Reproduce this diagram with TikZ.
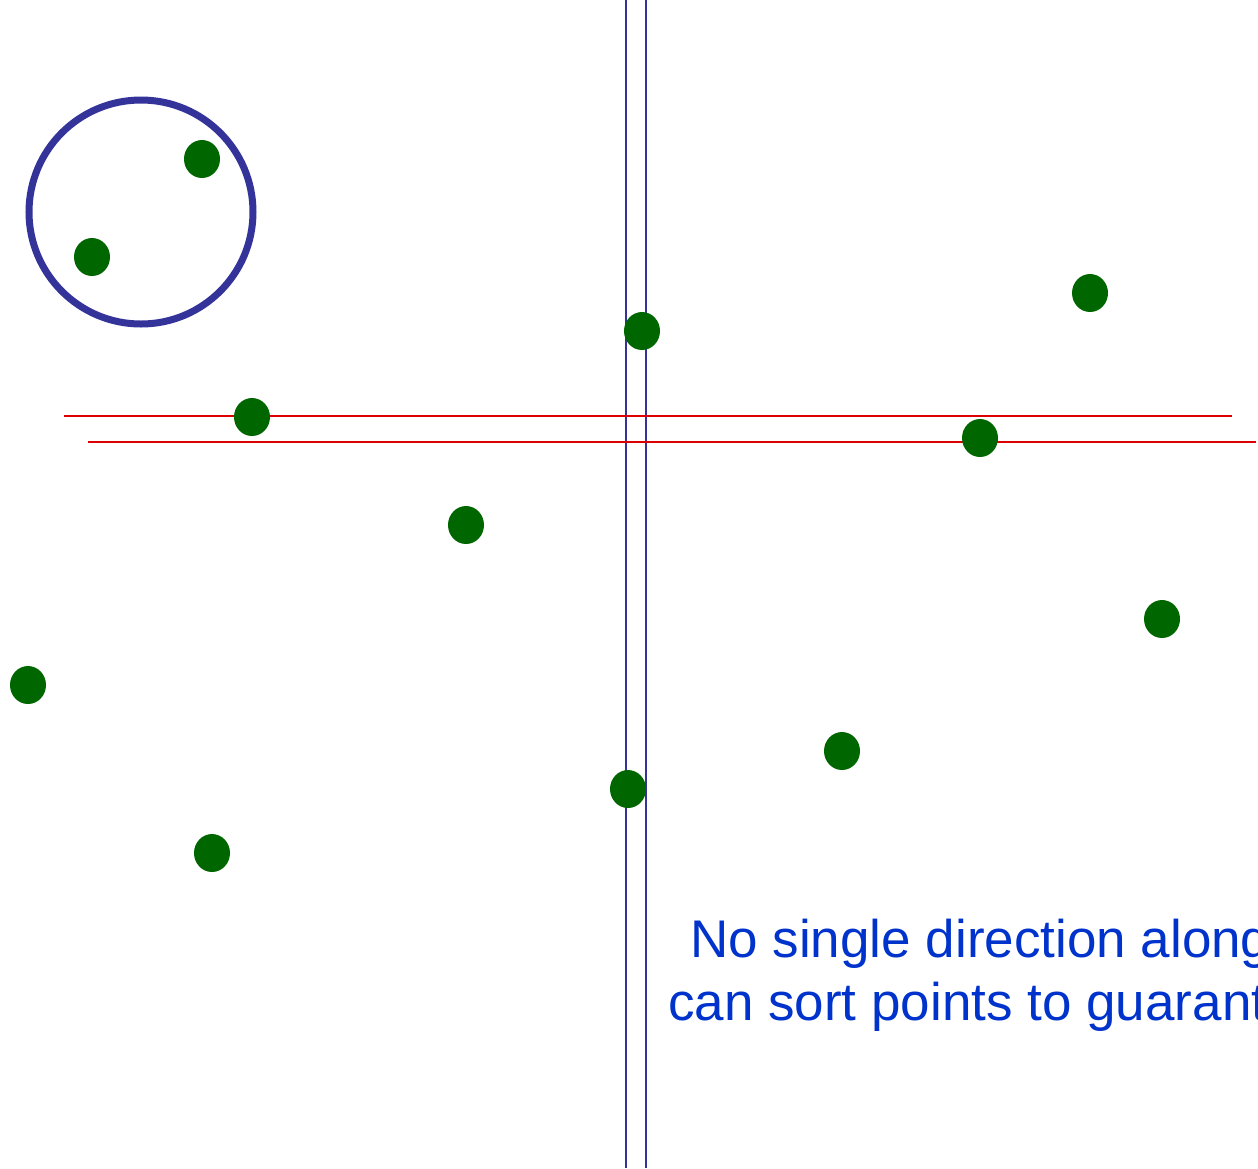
\documentclass[tikz,border=0pt]{standalone}
\usepackage{fontspec}
\setmainfont{Liberation Sans}
\definecolor{dotgreen}{HTML}{006600}
\definecolor{lineblue}{HTML}{333399}
\definecolor{linered}{HTML}{DD0000}
\definecolor{textblue}{HTML}{0033CC}
\tikzset{
  pt/.style={fill=dotgreen, draw=none, ellipse, minimum width=36pt, minimum height=38pt, inner sep=0pt},
  vline/.style={lineblue, line width=2.8pt},
  hline/.style={linered, line width=2.8pt},
  lbl/.style={textblue, font=\fontsize{53}{63}\selectfont, anchor=base west, inner sep=0pt}
}
\usetikzlibrary{shapes.geometric}
\begin{document}
\begin{tikzpicture}[x=1pt,y=-1pt]
\useasboundingbox (0,0) rectangle (1258,1168);
\clip (0,0) rectangle (1258,1168);
\fill[white] (0,0) rectangle (1258,1168);
% lines
\coordinate (v1t) at (626,0); \coordinate (v1b) at (626,1168);
\coordinate (v2t) at (646,0); \coordinate (v2b) at (646,1168);
\coordinate (h1l) at (64,416); \coordinate (h1r) at (1232,416);
\coordinate (h2l) at (88,442); \coordinate (h2r) at (1256,442);
\draw[vline] (v1t) -- (v1b);
\draw[vline] (v2t) -- (v2b);
\draw[hline] (h1l) -- (h1r);
\draw[hline] (h2l) -- (h2r);
% circle
\node[draw=lineblue, line width=7pt, circle, minimum size=224pt, inner sep=0pt] (ring) at (141,212) {};
% points
\node[pt] (p1) at (202,159) {};
\node[pt] (p2) at (92,257) {};
\node[pt] (p3) at (642,331) {};
\node[pt] (p4) at (1090,293) {};
\node[pt] (p5) at (252,417) {};
\node[pt] (p6) at (980,438) {};
\node[pt] (p7) at (466,525) {};
\node[pt] (p8) at (1162,619) {};
\node[pt] (p9) at (28,685) {};
\node[pt] (p10) at (842,751) {};
\node[pt] (p11) at (628,789) {};
\node[pt] (p12) at (212,853) {};
% text
\node[lbl] (t1) at (690,957) {No single direction along};
\node[lbl] (t2) at (668,1020) {can sort points to guarantee};
\end{tikzpicture}
\end{document}
